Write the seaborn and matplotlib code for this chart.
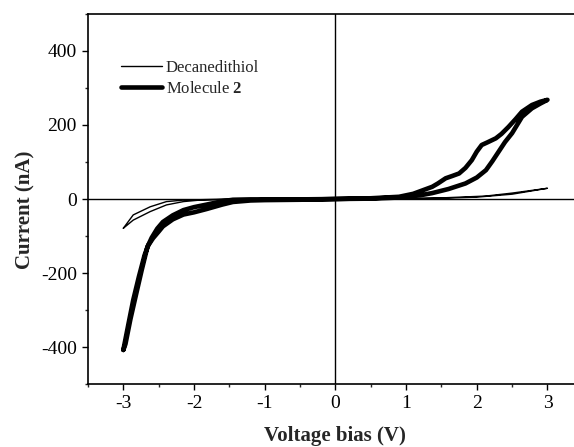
import matplotlib
matplotlib.use("Agg")
import matplotlib.pyplot as plt
import seaborn as sns
import pandas as pd
from matplotlib.ticker import MultipleLocator

# ---- data ----
# Decanedithiol: forward sweep then reverse sweep
dec_v_fwd = [-3.0, -2.86, -2.62, -2.39, -2.15, -1.92, -1.5, -1.0, 0.0, 1.0, 1.5, 2.0, 2.5, 3.0]
dec_i_fwd = [-79, -57, -34, -16, -7, -3, -1, 0, 0, 1, 2, 5, 13, 29]
dec_v_rev = [3.0, 2.5, 2.13, 1.5, 1.0, 0.0, -1.0, -1.5, -2.15, -2.39, -2.62, -2.86, -3.0]
dec_i_rev = [29, 16, 8, 3, 1, 0, 0, 0, -3, -7, -21, -43, -79]

# Molecule 2: negative branch (two close sweeps) and positive hysteresis loop
mol_v_neg_a = [-3.0, -2.93, -2.86, -2.78, -2.70, -2.65, -2.58, -2.5, -2.44, -2.3, -2.15, -2.0, -1.82, -1.6, -1.45, -1.2, -1.0, -0.5, 0.0]
mol_i_neg_a = [-408, -340, -273, -210, -152, -126, -106, -88, -74, -55, -42, -36, -27, -15, -8, -4, -3, -2, 0]
mol_v_neg_b = [0.0, -0.5, -1.0, -1.2, -1.45, -1.6, -1.82, -2.0, -2.15, -2.3, -2.44, -2.52, -2.6, -2.66, -2.74, -2.82, -2.90, -2.97, -3.0]
mol_i_neg_b = [0, -1, -1, -1, -2, -6, -15, -22, -30, -44, -62, -80, -105, -130, -192, -258, -325, -392, -408]
mol_v_pos_lo = [0.0, 0.5, 0.9, 1.2, 1.37, 1.6, 1.84, 2.0, 2.13, 2.22, 2.31, 2.4, 2.5, 2.64, 2.78, 2.9, 3.0]
mol_i_pos_lo = [0, 1, 4, 10, 16, 27, 42, 58, 78, 102, 128, 154, 178, 222, 245, 258, 268]
mol_v_pos_hi = [3.0, 2.9, 2.78, 2.64, 2.55, 2.45, 2.35, 2.27, 2.15, 2.07, 2.0, 1.93, 1.84, 1.75, 1.65, 1.56, 1.45, 1.37, 1.1, 0.9, 0.5, 0.0]
mol_i_pos_hi = [268, 263, 254, 236, 216, 195, 176, 164, 153, 146, 128, 105, 84, 69, 62, 56, 42, 33, 14, 6, 2, 0]

x_ticks = [-3, -2, -1, 0, 1, 2, 3]
y_ticks = [-400, -200, 0, 200, 400]

# ---- style ----
sns.set_style("ticks")
plt.rcParams["font.family"] = ["Liberation Serif", "DejaVu Serif"]
plt.rcParams["mathtext.fontset"] = "custom"
plt.rcParams["mathtext.bf"] = "Liberation Serif:bold"
plt.rcParams["mathtext.rm"] = "Liberation Serif"
plt.rcParams["axes.unicode_minus"] = False

fig = plt.figure(figsize=(5.74, 4.47), dpi=100)
ax = fig.add_axes([0.1533, 0.1409, 0.862, 0.8278])

dec_df = pd.DataFrame({"V": dec_v_fwd + dec_v_rev, "I": dec_i_fwd + dec_i_rev})
mol_df = pd.DataFrame({"V": mol_v_neg_a + mol_v_pos_lo + mol_v_pos_hi + mol_v_neg_b,
                       "I": mol_i_neg_a + mol_i_pos_lo + mol_i_pos_hi + mol_i_neg_b})

ax.axhline(0, color="black", lw=1.0, zorder=1)
ax.axvline(0, color="black", lw=1.0, zorder=1)

sns.lineplot(data=dec_df, x="V", y="I", sort=False, estimator=None, color="black",
             lw=1.0, ax=ax, label="Decanedithiol", zorder=3)
sns.lineplot(data=mol_df, x="V", y="I", sort=False, estimator=None, color="black",
             lw=3.3, ax=ax, label=r"Molecule $\mathbf{2}$", zorder=2,
             solid_joinstyle="round", solid_capstyle="round")

ax.set_xlim(-3.5, 3.5)
ax.set_ylim(-500, 500)
ax.set_xticks(x_ticks)
ax.set_yticks(y_ticks)
ax.set_xticklabels([str(v) for v in x_ticks])
ax.set_yticklabels([str(v) for v in y_ticks])
ax.xaxis.set_minor_locator(MultipleLocator(0.5))
ax.yaxis.set_minor_locator(MultipleLocator(100))
ax.tick_params(axis="both", which="major", direction="out", length=4, width=1,
               labelsize=14, pad=4, colors="black")
ax.tick_params(axis="both", which="minor", direction="out", length=2.5, width=1)
ax.tick_params(top=False, right=False, which="both")

for s in ["left", "bottom", "top"]:
    ax.spines[s].set_visible(True)
    ax.spines[s].set_linewidth(1.2)
    ax.spines[s].set_color("black")
ax.spines["right"].set_visible(False)

ax.set_xlabel("Voltage bias (V)", fontsize=15, fontweight="bold", labelpad=10)
ax.set_ylabel("Current (nA)", fontsize=15, fontweight="bold")
ax.yaxis.set_label_coords(-0.106, 0.47)

leg = ax.legend(loc="upper left", bbox_to_anchor=(0.054, 0.893), frameon=False,
                fontsize=12, handlelength=2.45, handletextpad=0.2, labelspacing=0.3,
                borderaxespad=0)

fig.savefig("out.png", dpi=100)
